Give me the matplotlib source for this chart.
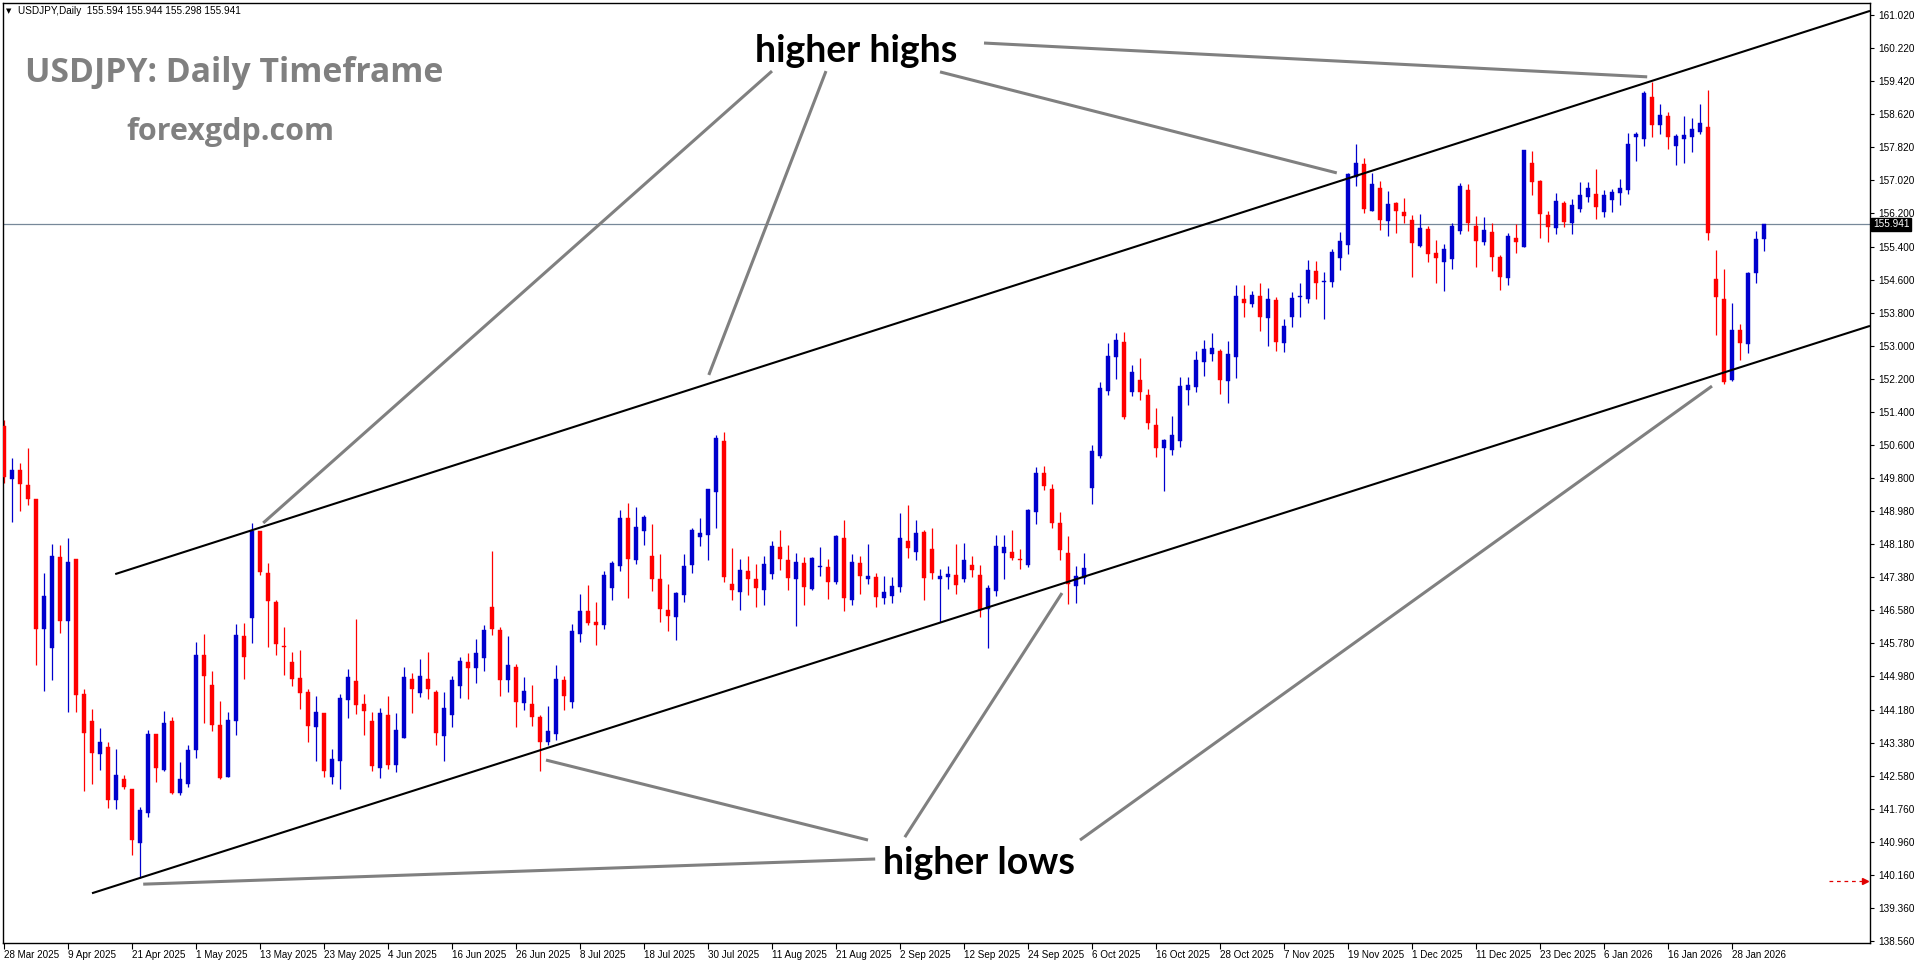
import matplotlib
matplotlib.use("Agg")
import matplotlib.pyplot as plt
import matplotlib.transforms as mtransforms

# USDJPY daily candles, 28 Mar 2025 .. 3 Feb 2026
opens = [151.04, 149.77, 149.98, 149.63, 149.27, 146.12, 145.66, 147.88, 146.33, 147.83,
         144.55, 143.90, 143.10, 143.27, 141.98, 142.50, 142.25, 140.93, 141.67, 143.57,
         142.72, 143.89, 142.14, 142.38, 143.20, 145.49, 144.77, 143.81, 142.55, 143.90,
         145.97, 146.40, 148.50, 147.49, 146.79, 145.72, 145.32, 144.94, 144.60, 143.76,
         144.10, 142.55, 142.93, 144.40, 144.87, 144.30, 143.89, 142.76, 144.05, 142.84,
         143.48, 144.92, 144.58, 144.92, 144.60, 143.54, 144.04, 144.75, 145.32, 145.19,
         145.43, 146.66, 146.10, 144.88, 145.21, 144.34, 144.31, 144.00, 143.40, 143.59,
         144.89, 144.37, 146.01, 146.56, 146.30, 146.23, 147.13, 147.66, 148.82, 147.81,
         148.51, 147.90, 147.34, 146.59, 146.43, 146.96, 147.69, 148.37, 148.42, 149.46,
         150.69, 147.22, 147.03, 147.54, 147.34, 147.08, 147.47, 148.12, 147.80, 147.35,
         147.73, 147.11, 147.64, 147.63, 147.28, 148.34, 146.84, 147.73, 147.33, 147.39,
         146.89, 146.94, 147.15, 148.26, 148.00, 148.48, 148.07, 147.35, 147.40, 147.45,
         147.33, 147.68, 147.44, 146.61, 147.06, 147.98, 147.99, 147.82, 147.68, 148.96,
         149.90, 149.52, 148.69, 147.97, 147.17, 147.36, 149.55, 150.33, 151.89, 152.73,
         153.08, 151.88, 152.16, 151.81, 151.08, 150.51, 150.46, 150.70, 151.92, 152.00,
         152.60, 152.81, 152.88, 152.14, 152.73, 154.14, 154.00, 154.21, 153.66, 154.11,
         153.06, 153.69, 154.17, 154.14, 154.81, 154.54, 154.54, 155.13, 155.43, 157.09,
         157.41, 156.27, 156.82, 156.02, 156.46, 156.24, 156.06, 155.42, 155.84, 155.25,
         155.04, 155.11, 155.77, 156.78, 155.91, 155.52, 155.76, 155.15, 154.63, 155.61,
         155.40, 157.43, 156.99, 156.17, 155.86, 156.46, 155.98, 156.32, 156.61, 156.68,
         156.23, 156.54, 156.71, 156.78, 158.05, 158.02, 159.03, 158.36, 158.57, 157.85,
         158.02, 158.07, 158.19, 158.30, 154.62, 154.13, 152.17, 153.38, 153.05, 154.77,
         155.594]
highs = [151.20, 150.27, 150.15, 150.51, 149.29, 147.49, 148.19, 148.17, 148.34, 147.83,
         144.67, 144.20, 143.72, 143.40, 143.22, 142.59, 142.25, 141.82, 143.69, 143.57,
         144.15, 144.00, 142.90, 143.31, 145.82, 146.01, 145.10, 144.39, 144.12, 146.25,
         146.27, 148.69, 148.50, 147.74, 146.82, 146.18, 145.56, 145.61, 144.67, 144.50,
         144.10, 143.22, 144.56, 145.17, 146.37, 144.56, 144.11, 144.22, 144.51, 144.10,
         145.21, 145.05, 145.39, 145.56, 144.65, 144.60, 145.00, 145.46, 145.54, 145.88,
         146.23, 148.02, 146.18, 145.96, 145.28, 144.96, 144.77, 144.04, 144.26, 145.26,
         144.99, 146.25, 146.98, 147.20, 146.78, 147.54, 147.78, 149.01, 149.18, 149.09,
         148.89, 148.68, 147.95, 147.23, 147.03, 147.95, 148.58, 148.82, 149.52, 150.84,
         150.91, 148.09, 147.83, 147.90, 147.71, 147.90, 148.26, 148.53, 148.17, 147.97,
         147.87, 147.87, 148.12, 147.83, 148.41, 148.77, 147.95, 147.90, 148.19, 147.49,
         147.42, 147.40, 148.94, 149.14, 148.77, 148.53, 148.58, 147.58, 147.66, 148.19,
         148.21, 147.90, 147.68, 147.20, 148.40, 148.42, 148.52, 148.07, 149.05, 150.05,
         150.07, 149.64, 148.97, 148.38, 147.66, 147.97, 150.58, 152.13, 153.06, 153.31,
         153.33, 152.52, 152.69, 151.96, 151.48, 150.74, 151.29, 152.25, 152.25, 152.88,
         153.14, 153.31, 152.92, 153.11, 154.48, 154.46, 154.33, 154.51, 154.41, 154.19,
         153.64, 154.29, 154.52, 155.07, 155.05, 154.79, 155.34, 155.75, 157.20, 157.88,
         157.54, 157.18, 156.99, 156.75, 156.49, 156.58, 156.18, 156.20, 155.91, 155.56,
         155.47, 155.97, 156.95, 156.91, 156.15, 156.13, 155.98, 155.20, 155.74, 155.96,
         157.75, 157.71, 157.02, 156.27, 156.70, 156.51, 156.56, 156.97, 156.97, 157.29,
         156.78, 156.80, 157.04, 158.16, 158.18, 159.18, 159.40, 158.86, 158.67, 158.14,
         158.57, 158.52, 158.86, 159.20, 155.32, 154.86, 154.03, 153.53, 154.79, 155.78,
         155.944]
lows = [149.68, 148.72, 148.99, 149.13, 145.25, 144.63, 144.90, 146.02, 144.11, 144.11,
        142.19, 142.36, 142.72, 141.79, 141.76, 142.24, 140.64, 140.10, 141.58, 142.41,
        142.68, 142.13, 142.10, 142.29, 143.01, 143.85, 143.65, 142.48, 142.53, 143.56,
        144.92, 145.78, 147.43, 145.68, 145.50, 145.01, 144.75, 144.18, 143.39, 142.93,
        142.55, 142.36, 142.24, 143.96, 144.06, 143.56, 142.68, 142.51, 142.73, 142.66,
        143.48, 144.08, 144.49, 144.43, 143.31, 142.92, 143.76, 144.45, 144.43, 144.83,
        145.12, 145.99, 144.51, 144.61, 143.76, 144.17, 143.78, 142.69, 143.32, 143.44,
        144.17, 144.22, 145.82, 146.23, 145.75, 146.13, 146.83, 147.54, 146.89, 147.71,
        148.17, 147.06, 146.31, 146.09, 145.85, 146.79, 147.49, 148.15, 147.79, 148.59,
        147.28, 146.84, 146.60, 146.96, 146.67, 146.72, 147.33, 147.57, 147.08, 146.21,
        146.72, 147.08, 147.42, 146.86, 147.23, 146.57, 146.72, 146.98, 147.23, 146.65,
        146.74, 146.77, 147.03, 147.86, 147.79, 146.82, 147.33, 146.31, 147.11, 146.98,
        147.26, 147.38, 146.43, 145.66, 146.93, 147.33, 147.79, 147.59, 147.64, 148.68,
        149.51, 148.59, 147.79, 146.73, 146.76, 147.21, 149.15, 150.28, 151.80, 152.18,
        151.23, 151.77, 151.68, 150.97, 150.30, 149.48, 150.36, 150.55, 151.57, 151.87,
        152.27, 152.62, 151.82, 151.60, 152.21, 153.69, 153.95, 153.35, 153.00, 152.88,
        152.85, 153.45, 153.69, 154.04, 154.14, 153.64, 154.43, 154.84, 155.22, 156.87,
        156.21, 156.26, 155.80, 155.65, 155.73, 155.97, 154.67, 155.39, 155.03, 154.53,
        154.32, 154.87, 155.72, 155.77, 154.92, 155.43, 154.80, 154.36, 154.48, 155.25,
        155.40, 156.66, 155.62, 155.52, 155.72, 155.89, 155.72, 156.25, 156.49, 156.08,
        156.13, 156.25, 156.42, 156.69, 157.49, 157.85, 158.07, 158.14, 157.78, 157.39,
        157.44, 157.70, 158.14, 155.57, 153.27, 152.08, 152.15, 152.66, 152.83, 154.53,
        155.298]
closes = [149.82, 149.98, 149.64, 149.27, 146.12, 146.94, 147.91, 146.33, 147.76, 144.53,
          143.61, 143.13, 143.39, 141.98, 142.59, 142.29, 141.00, 141.75, 143.57, 142.75,
          143.86, 142.14, 142.50, 143.19, 145.49, 144.99, 143.80, 142.52, 143.93, 145.99,
          145.45, 148.51, 147.52, 146.81, 145.76, 145.68, 144.92, 144.58, 143.77, 144.12,
          142.68, 142.97, 144.46, 144.96, 144.28, 144.15, 142.81, 144.10, 142.84, 143.69,
          144.96, 144.68, 144.99, 144.68, 143.61, 144.22, 144.89, 145.36, 145.19, 145.54,
          146.10, 146.14, 144.88, 145.26, 144.37, 144.62, 144.00, 143.40, 143.65, 144.92,
          144.51, 146.08, 146.56, 146.28, 146.23, 147.44, 147.73, 148.82, 147.83, 148.60,
          148.84, 147.33, 146.62, 146.45, 147.01, 147.66, 148.53, 148.46, 149.52, 150.76,
          147.40, 147.08, 147.56, 147.35, 147.13, 147.71, 148.14, 147.83, 147.37, 147.75,
          147.15, 147.85, 147.66, 147.28, 148.38, 146.89, 147.75, 147.42, 147.41, 146.91,
          147.03, 147.17, 148.34, 148.10, 148.46, 147.37, 147.49, 147.41, 147.46, 147.20,
          147.80, 147.55, 146.60, 147.13, 148.14, 148.12, 147.86, 147.79, 149.02, 149.90,
          149.60, 148.70, 148.05, 147.21, 147.42, 147.61, 150.45, 151.97, 152.76, 153.13,
          151.28, 152.37, 151.88, 151.13, 150.51, 150.72, 150.84, 152.01, 152.04, 152.66,
          152.92, 152.94, 152.17, 152.81, 154.21, 154.03, 154.24, 153.69, 154.14, 153.09,
          153.47, 154.16, 154.20, 154.84, 154.52, 154.57, 155.26, 155.53, 157.16, 157.44,
          156.32, 156.91, 156.06, 156.44, 156.27, 156.14, 155.49, 155.86, 155.22, 155.13,
          155.34, 155.91, 156.87, 155.98, 155.55, 155.81, 155.16, 154.67, 155.67, 155.52,
          157.75, 156.98, 156.20, 155.89, 156.51, 156.01, 156.41, 156.65, 156.82, 156.37,
          156.65, 156.73, 156.82, 157.89, 158.13, 159.13, 158.36, 158.59, 158.07, 158.09,
          158.11, 158.25, 158.40, 155.74, 154.18, 152.13, 153.38, 153.07, 154.77, 155.59,
          155.941]

date_labels = ["28 Mar 2025", "9 Apr 2025", "21 Apr 2025", "1 May 2025", "13 May 2025",
               "23 May 2025", "4 Jun 2025", "16 Jun 2025", "26 Jun 2025", "8 Jul 2025",
               "18 Jul 2025", "30 Jul 2025", "11 Aug 2025", "21 Aug 2025", "2 Sep 2025",
               "12 Sep 2025", "24 Sep 2025", "6 Oct 2025", "16 Oct 2025", "28 Oct 2025",
               "7 Nov 2025", "19 Nov 2025", "1 Dec 2025", "11 Dec 2025", "23 Dec 2025",
               "6 Jan 2026", "16 Jan 2026", "28 Jan 2026"]
price_labels = ["161.020", "160.220", "159.420", "158.620", "157.820", "157.020", "156.200",
                "155.400", "154.600", "153.800", "153.000", "152.200", "151.400", "150.600",
                "149.800", "148.980", "148.180", "147.380", "146.580", "145.780", "144.980",
                "144.180", "143.380", "142.580", "141.760", "140.960", "140.160", "139.360",
                "138.560"]
last_price = 155.941

# trend lines: (bar, price) end points
upper_channel = [(13.9, 147.46), (233.25, 161.12)]
lower_channel = [(11.0, 139.72), (233.25, 153.48)]
highs_pointers = [[(96.0, 159.66), (32.4, 148.70)],
                  [(102.75, 159.66), (88.1, 152.29)],
                  [(117.0, 159.64), (166.6, 157.19)],
                  [(122.5, 160.34), (205.4, 159.52)]]
lows_pointers = [[(108.0, 141.01), (67.75, 142.95)],
                 [(112.6, 141.08), (132.25, 147.00)],
                 [(134.5, 141.01), (213.5, 152.02)],
                 [(108.9, 140.55), (17.4, 139.94)]]

W, H = 1916, 964
fig = plt.figure(figsize=(W / 100, H / 100), dpi=100)
ax = fig.add_axes([3 / W, 21 / H, 1867 / W, 940 / H])

bull, bear = "#0000CD", "#FF0000"
xs = list(range(len(opens)))
for i in xs:
    o, h, l, c = opens[i], highs[i], lows[i], closes[i]
    col = bull if c >= o else bear
    ax.vlines(i, l, h, color=col, lw=0.9, zorder=2)
    ax.bar(i, max(abs(c - o), 0.012), bottom=min(o, c), width=0.6,
           color=col, edgecolor=col, lw=0.3, zorder=3)

ax.axhline(last_price, color="#778899", lw=0.9, zorder=1)

for pts in (upper_channel, lower_channel):
    ax.plot([p[0] for p in pts], [p[1] for p in pts], color="black", lw=1.5,
            zorder=4, solid_capstyle="butt")
for pts in highs_pointers + lows_pointers:
    ax.plot([p[0] for p in pts], [p[1] for p in pts], color="#808080", lw=2.2,
            zorder=4, solid_capstyle="butt")

# red dashed marker line at the right
ax.plot([228.1, 232.6], [140.02, 140.02], color="#E00000", lw=0.9, ls=(0, (3, 3)), zorder=4)
ax.plot([232.6], [140.02], marker=">", color="#E00000", ms=4, zorder=4)

ax.set_xlim(-0.125, 233.25)
ax.set_ylim(138.513, 161.311)

small = ["Liberation Sans Narrow", "Liberation Sans", "DejaVu Sans"]
ax.set_xticks([8 * k for k in range(len(date_labels))])
ax.set_xticklabels(date_labels, fontsize=7.1, family=small, ha="left")
step = (161.02 - 138.56) / (len(price_labels) - 1)
ax.set_yticks([161.02 - k * step for k in range(len(price_labels))])
ax.set_yticklabels(price_labels, fontsize=7.2, family=small)
ax.yaxis.tick_right()
ax.tick_params(axis="y", direction="out", length=3, width=0.8, pad=3)
ax.tick_params(axis="x", direction="out", length=4, width=0.8, pad=1)
for s in ax.spines.values():
    s.set_linewidth(1.0)
    s.set_color("black")

# current price box
trans = mtransforms.blended_transform_factory(ax.transAxes, ax.transData)
ax.text(1.0015, last_price, "155.941", transform=trans, fontsize=7.2, family=small,
        color="white", va="center", ha="left",
        bbox=dict(boxstyle="square,pad=0.15", fc="black", ec="black"))

def fx(px):
    return px / W

def fy(py):
    return 1 - py / H

fig.text(fx(6), fy(11), "\u25bc", fontsize=5, va="center", ha="left")
fig.text(fx(18), fy(11), "USDJPY,Daily  155.594 155.944 155.298 155.941",
         fontsize=7.2, family=small, va="center", ha="left")
fig.text(fx(25), fy(82), "USDJPY: Daily Timeframe", fontsize=24.3, fontweight="bold",
         family="Open Sans", color="#808080", va="baseline", ha="left")
fig.text(fx(126), fy(140), "forexgdp.com", fontsize=22, fontweight="bold",
         family="Open Sans", color="#808080", va="baseline", ha="left")
fig.text(fx(856), fy(62), "higher highs", fontsize=27, fontweight="bold",
         family="Lato", color="black", va="baseline", ha="center")
fig.text(fx(979), fy(874), "higher lows", fontsize=27, fontweight="bold",
         family="Lato", color="black", va="baseline", ha="center")

fig.savefig("out.png", dpi=100, facecolor="white")
